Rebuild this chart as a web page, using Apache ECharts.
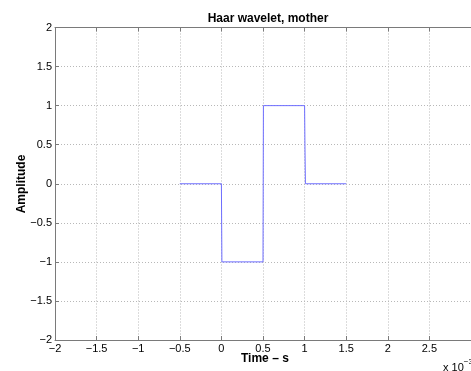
<!DOCTYPE html>
<html>
<head>
<meta charset="utf-8">
<script src="https://cdn.jsdelivr.net/npm/echarts@6/dist/echarts.min.js"></script>
<style>
  html, body { margin: 0; padding: 0; background: #fff; }
  #chart { width: 471px; height: 371px; }
</style>
</head>
<body>
<div id="chart"></div>
<script>
// Haar mother wavelet, time in units of 1e-3 s
const timeMs = [-0.5, 0, 0.006, 0.5, 0.505, 1, 1.004, 1.01, 1.5];
const amplitude = [0, 0, -1, -1, 1, 1, 0.5, 0, 0];

const xTicks = { min: -2, max: 3, step: 0.5 };
const yTicks = { min: -2, max: 2, step: 0.5 };

const FONT = '"Liberation Sans", Arial, sans-serif';
const minus = v => String(v).replace('-', '\u2212');

const gridLine = { show: true, lineStyle: { color: '#b8b8b8', type: [1, 2], width: 1 } };
const frameLine = { show: true, onZero: false, lineStyle: { color: '#7a7a7a', width: 1 } };
const innerTick = { show: true, inside: true, length: 4, lineStyle: { color: '#7a7a7a' } };

const chart = echarts.init(document.getElementById('chart'), null, { renderer: 'canvas' });
chart.setOption({
  animation: false,
  backgroundColor: '#fff',
  title: {
    text: 'Haar wavelet, mother',
    left: 263, top: 8, textAlign: 'center',
    textStyle: { fontFamily: FONT, fontSize: 12, fontWeight: 'bold', color: '#000' }
  },
  grid: { left: 55, top: 27.5, width: 417.5, height: 312.5, containLabel: false },
  xAxis: [{
    type: 'value', min: xTicks.min, max: xTicks.max, interval: xTicks.step,
    axisLine: frameLine, axisTick: innerTick, splitLine: gridLine,
    axisLabel: { color: '#000', fontFamily: FONT, fontSize: 11, margin: 3, formatter: minus,
                 showMaxLabel: false }
  }, {
    type: 'value', position: 'top', min: xTicks.min, max: xTicks.max, interval: xTicks.step,
    axisLine: frameLine, axisTick: innerTick, splitLine: { show: false },
    axisLabel: { show: false }
  }],
  yAxis: [{
    type: 'value', min: yTicks.min, max: yTicks.max, interval: yTicks.step,
    axisLine: frameLine, axisTick: innerTick, splitLine: gridLine,
    axisLabel: { color: '#000', fontFamily: FONT, fontSize: 11, margin: 3, formatter: minus }
  }],
  graphic: [
    { type: 'text', left: 241, top: 353,
      style: { text: 'Time \u2013 s', font: 'bold 12px ' + FONT, fill: '#000' } },
    { type: 'text', x: 22, y: 184, rotation: Math.PI / 2,
      style: { text: 'Amplitude', font: 'bold 12px ' + FONT, fill: '#000',
               align: 'center', verticalAlign: 'middle' } },
    { type: 'text', left: 443, top: 358,
      style: { text: '{b|x 10}{s|\u22123}', fill: '#000',
               rich: { b: { font: '11px ' + FONT, fill: '#000', padding: [4, 0, 0, 0] },
                       s: { font: '8px ' + FONT, fill: '#000', verticalAlign: 'top' } } } }
  ],
  series: [{
    type: 'line',
    data: timeMs.map((t, i) => [t, amplitude[i]]),
    showSymbol: false, symbol: 'none',
    lineStyle: { color: '#6e6eff', width: 1 },
    clip: false
  }]
});
</script>
</body>
</html>
